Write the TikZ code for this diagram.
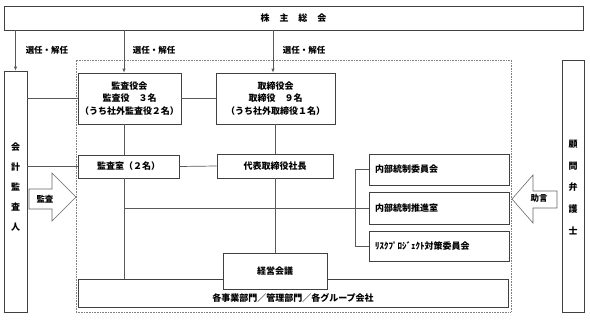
\documentclass[tikz,border=0pt]{standalone}
\usepackage{fontspec}
\setmainfont{Noto Sans CJK JP}
\usetikzlibrary{arrows.meta}
\begin{document}
\begin{tikzpicture}[x=1pt,y=-1pt,
  box/.style={draw=black!75, line width=0.7pt, fill=white, inner sep=0pt},
  conn/.style={draw=black!65, line width=0.7pt},
  arr/.style={conn, -{Latex[length=4pt,width=3.5pt]}},
  lbl/.style={font=\fontsize{8.5}{10}\selectfont\bfseries, inner sep=0pt},
  txt/.style={font=\fontsize{9}{12.5}\selectfont\bfseries, align=center},
  vtxt/.style={font=\fontsize{9}{20}\selectfont\bfseries, align=center, inner sep=0pt},
  ltxt/.style={font=\fontsize{9}{12}\selectfont\bfseries, align=left, inner xsep=6pt, text width=128pt},
  blk/.style={draw=black!60, line width=0.6pt, fill=white},
  frame/.style={draw=black!50, line width=0.6pt, dash pattern=on 0.8pt off 0.8pt}
]
\useasboundingbox (0,0) rectangle (590,324);

% frame
\node[frame, minimum width=435pt, minimum height=252pt, inner sep=0pt] (frm) at (293.5,186) {};

% helper coordinates
\coordinate (cA) at (124,0);
\coordinate (cB) at (273,0);
\coordinate (cBr) at (355,0);

% boxes
\node[box, minimum width=579pt, minimum height=24pt, font=\fontsize{9}{10}\selectfont\bfseries] (agm) at (293.5,18) {株\hspace{10pt}主\hspace{10pt}総\hspace{10pt}会};
\node[box, minimum width=23pt, minimum height=241pt] (aud) at (15.5,191.5) {};
\node[vtxt] (audt) at (15.5,187) {会\\計\\監\\査\\人};
\node[box, minimum width=22pt, minimum height=252pt] (law) at (573,186) {};
\node[vtxt, font=\fontsize{9}{21.8}\selectfont\bfseries] (lawt) at (573,187.5) {顧\\問\\弁\\護\\士};

\node[box, txt, minimum width=103pt, minimum height=51pt] (kansa) at (129.5,98.5) {監査役会\\監査役　３名\\（うち社外監査役２名）};
\node[box, txt, minimum width=119pt, minimum height=51pt] (tori) at (275.5,98.5) {取締役会\\取締役　９名\\（うち社外取締役１名）};
\node[box, txt, minimum width=101pt, minimum height=23pt] (shitsu) at (128.5,166.5) {監査室（２名）};
\node[box, txt, minimum width=116pt, minimum height=24pt] (daihyo) at (275,166) {代表取締役社長};

\node[box, minimum width=430pt, minimum height=28pt] (kaku) at (293,293) {};
\node[box, txt, minimum width=104pt, minimum height=36pt] (keiei) at (275,271) {経営会議};
\node[txt, inner sep=0pt] (kakut) at (293,298) {各事業部門／管理部門／各グループ会社};

\node[box, ltxt, minimum width=140pt, minimum height=31pt] (iinkai) at (439,169.5) {内部統制委員会};
\node[box, ltxt, minimum width=140pt, minimum height=32pt] (suishin) at (439,208) {内部統制推進室};
\node[box, ltxt, minimum width=140pt, minimum height=30pt] (risk) at (439,246) {ﾘｽｸﾌﾟﾛｼﾞｪｸﾄ対策委員会};

% arrows from AGM
\draw[arr] (agm.south -| aud) -- (aud.north);
\draw[arr] (agm.south -| cA) -- (kansa.north -| cA);
\draw[arr] (agm.south -| cB) -- (tori.north -| cB);
\node[lbl] (l1) at (47,50) {選任・解任};
\node[lbl] (l2) at (154,50) {選任・解任};
\node[lbl] (l3) at (304,50) {選任・解任};

% connectors
\draw[conn] (aud.east |- kansa.west) -- (kansa.west);
\draw[conn] (kansa.east) -- (tori.west);
\draw[conn] (aud.east |- shitsu.west) -- (shitsu.west);
\draw[conn] (shitsu.east) -- (daihyo.west);
\draw[conn] (kansa.south -| cA) -- (shitsu.north -| cA);
\draw[conn] (shitsu.south -| cA) -- (kaku.north -| cA);
\draw[conn] (tori.south -| daihyo) -- (daihyo.north);
\draw[conn] (daihyo.south) -- (keiei.north);
\draw[conn] (cA |- suishin.west) -- (suishin.west);
\draw[conn] (iinkai.west) -- (iinkai.west -| cBr) -- (risk.west -| cBr) -- (risk.west);

% block arrows
\draw[blk] (29,189) -- (52,189) -- (52,173) -- (76,197) -- (52,221) -- (52,209) -- (29,209) -- cycle;
\node[lbl] (kansaArr) at (45,199) {監査};
\draw[blk] (557,191) -- (533,191) -- (533,175) -- (512,199) -- (533,223) -- (533,208) -- (557,208) -- cycle;
\node[lbl] (jogen) at (539,198) {助言};
\end{tikzpicture}
\end{document}
